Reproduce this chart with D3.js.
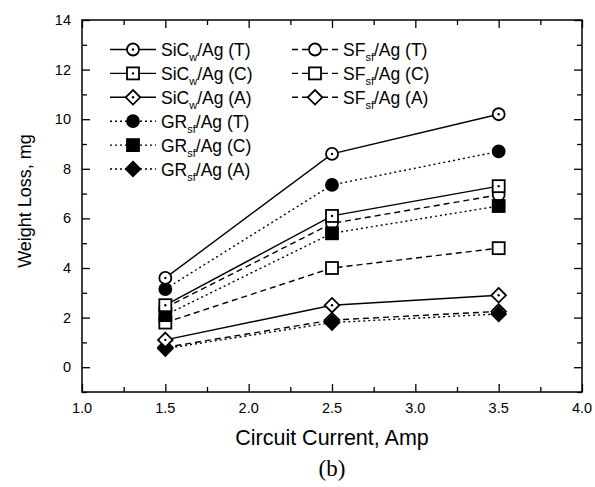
<!DOCTYPE html>
<meta charset="utf-8">
<style>
body { margin: 0; background: #fff; }
text { font-family: "Liberation Sans", Arial, sans-serif; fill: #000; }
</style>
<body>
<svg width="595" height="487"></svg>
<script src="https://d3js.org/d3.v7.min.js"></script>
<script>
// current values (Amp)
var currents = [1.5, 2.5, 3.5];

// weight loss, mg
var sicwT = [3.6, 8.6, 10.2],
    sicwC = [2.5, 6.1, 7.3],
    sicwA = [1.1, 2.5, 2.9],
    grT   = [3.15, 7.35, 8.7],
    grC   = [2.1, 5.4, 6.5],
    grA   = [0.75, 1.8, 2.15],
    sfT   = [2.4, 5.8, 6.95],
    sfC   = [1.8, 4.0, 4.8],
    sfA   = [0.8, 1.9, 2.25];

var xTicks = [1.0, 1.5, 2.0, 2.5, 3.0, 3.5, 4.0],
    yTicks = [0, 2, 4, 6, 8, 10, 12, 14];

// name parts: base, subscript, rest
var series = [
  {base: "SiC", sub: "w",  rest: "/Ag (T)", values: sicwT, line: "solid",  shape: "circle",  fill: "open", dot: true},
  {base: "SiC", sub: "w",  rest: "/Ag (C)", values: sicwC, line: "solid",  shape: "square",  fill: "open", dot: true},
  {base: "SiC", sub: "w",  rest: "/Ag (A)", values: sicwA, line: "solid",  shape: "diamond", fill: "open", dot: true},
  {base: "GR",  sub: "sf", rest: "/Ag (T)", values: grT,   line: "dotted", shape: "circle",  fill: "solid"},
  {base: "GR",  sub: "sf", rest: "/Ag (C)", values: grC,   line: "dotted", shape: "square",  fill: "solid"},
  {base: "GR",  sub: "sf", rest: "/Ag (A)", values: grA,   line: "dotted", shape: "diamond", fill: "solid"},
  {base: "SF",  sub: "sf", rest: "/Ag (T)", values: sfT,   line: "dashed", shape: "circle",  fill: "open"},
  {base: "SF",  sub: "sf", rest: "/Ag (C)", values: sfC,   line: "dashed", shape: "square",  fill: "open"},
  {base: "SF",  sub: "sf", rest: "/Ag (A)", values: sfA,   line: "dashed", shape: "diamond", fill: "open"}
];

var svg = d3.select("svg"),
    margin = {top: 20, right: 13, bottom: 95, left: 82},
    width = +svg.attr("width") - margin.left - margin.right,
    height = +svg.attr("height") - margin.top - margin.bottom,
    g = svg.append("g").attr("transform", "translate(" + margin.left + "," + margin.top + ")");

var x = d3.scaleLinear().domain([1.0, 4.0]).range([0, width]);
var y = d3.scaleLinear().domain([-1, 14]).range([height, 0]);

var dash = {solid: null, dotted: "2,3", dashed: "6,4"};

// minor / major ticks on all four sides, pointing in
function ticks(axis, scale, vals, len, offset) {
  var a = axis(scale).tickValues(vals).tickSize(-len).tickFormat("");
  var gg = g.append("g").attr("transform", offset).call(a);
  gg.select(".domain").remove();
  gg.selectAll("line").attr("stroke", "#000").attr("stroke-width", 1.3);
}
var xMinor = d3.range(1.25, 4, 0.5), yMinor = d3.range(-1, 14, 2);
ticks(d3.axisBottom, x, xTicks, 8, "translate(0," + height + ")");
ticks(d3.axisBottom, x, xMinor, 5, "translate(0," + height + ")");
ticks(d3.axisTop, x, xTicks, 8, "translate(0,0)");
ticks(d3.axisTop, x, xMinor, 5, "translate(0,0)");
ticks(d3.axisLeft, y, yTicks, 8, "translate(0,0)");
ticks(d3.axisLeft, y, yMinor, 5, "translate(0,0)");
ticks(d3.axisRight, y, yTicks, 8, "translate(" + width + ",0)");
ticks(d3.axisRight, y, yMinor, 5, "translate(" + width + ",0)");

g.append("rect")
    .attr("width", width).attr("height", height)
    .attr("fill", "none").attr("stroke", "#000").attr("stroke-width", 1.5);

// tick labels
g.selectAll(".xl").data(xTicks).enter().append("text")
    .attr("x", function(d) { return x(d); })
    .attr("y", height + 21)
    .attr("text-anchor", "middle")
    .style("font-size", "14.5px")
    .text(function(d) { return d.toFixed(1); });

g.selectAll(".yl").data(yTicks).enter().append("text")
    .attr("x", -11)
    .attr("y", function(d) { return y(d) + 5; })
    .attr("text-anchor", "end")
    .style("font-size", "14.5px")
    .text(function(d) { return d; });

// axis titles
svg.append("text")
    .attr("x", margin.left + width / 2)
    .attr("y", 445)
    .attr("text-anchor", "middle")
    .style("font-size", "21.5px")
    .text("Circuit Current, Amp");

svg.append("text")
    .attr("transform", "translate(31,201) rotate(-90)")
    .attr("text-anchor", "middle")
    .style("font-size", "18px")
    .text("Weight Loss, mg");

svg.append("text")
    .attr("x", 332)
    .attr("y", 476)
    .attr("text-anchor", "middle")
    .style("font-family", "'Liberation Serif', 'Times New Roman', serif")
    .style("font-size", "23px")
    .text("(b)");

// markers
function marker(sel, s) {
  var m;
  if (s.shape === "circle") {
    m = sel.append("circle").attr("r", 6);
  } else if (s.shape === "square") {
    m = sel.append("rect").attr("x", -6).attr("y", -6).attr("width", 12).attr("height", 12);
  } else {
    m = sel.append("path").attr("d", "M0,-7.3L7.3,0L0,7.3L-7.3,0Z");
  }
  m.attr("fill", s.fill === "solid" ? "#000" : "#fff")
   .attr("stroke", "#000").attr("stroke-width", 1.8);
  if (s.dot) sel.append("circle").attr("r", 1.2).attr("fill", "#000");
}

var line = d3.line()
    .x(function(d, i) { return x(currents[i]); })
    .y(function(d) { return y(d); });

// draw lines first, then markers (SF behind, SiCw on top)
var order = [6, 7, 8, 3, 4, 5, 0, 1, 2];
order.forEach(function(k) {
  var s = series[k];
  g.append("path")
      .datum(s.values)
      .attr("d", line)
      .attr("fill", "none")
      .attr("stroke", "#000")
      .attr("stroke-width", 1.4)
      .attr("stroke-dasharray", dash[s.line]);
});
order.forEach(function(k) {
  var s = series[k];
  s.values.forEach(function(v, i) {
    var mg = g.append("g").attr("transform", "translate(" + x(currents[i]) + "," + y(v) + ")");
    marker(mg, s);
  });
});

// legend
var leg = svg.append("g");
series.forEach(function(s, i) {
  var col = i < 6 ? 0 : 1,
      row = i < 6 ? i : i - 6,
      lx = col === 0 ? 110 : 292,
      ly = 49.5 + row * 23.9;
  var it = leg.append("g").attr("transform", "translate(" + lx + "," + ly + ")");
  it.append("line")
      .attr("x1", 0).attr("x2", 46)
      .attr("stroke", "#000").attr("stroke-width", 1.4)
      .attr("stroke-dasharray", dash[s.line]);
  var mg = it.append("g").attr("transform", "translate(23,0)");
  marker(mg, s);
  var t = it.append("text")
      .attr("x", 51)
      .attr("y", 6.5)
      .style("font-size", "17.5px");
  t.append("tspan").text(s.base);
  t.append("tspan").attr("dy", 5).style("font-size", "11px").text(s.sub);
  t.append("tspan").attr("dy", -5).text(s.rest);
});
</script>
</body>
